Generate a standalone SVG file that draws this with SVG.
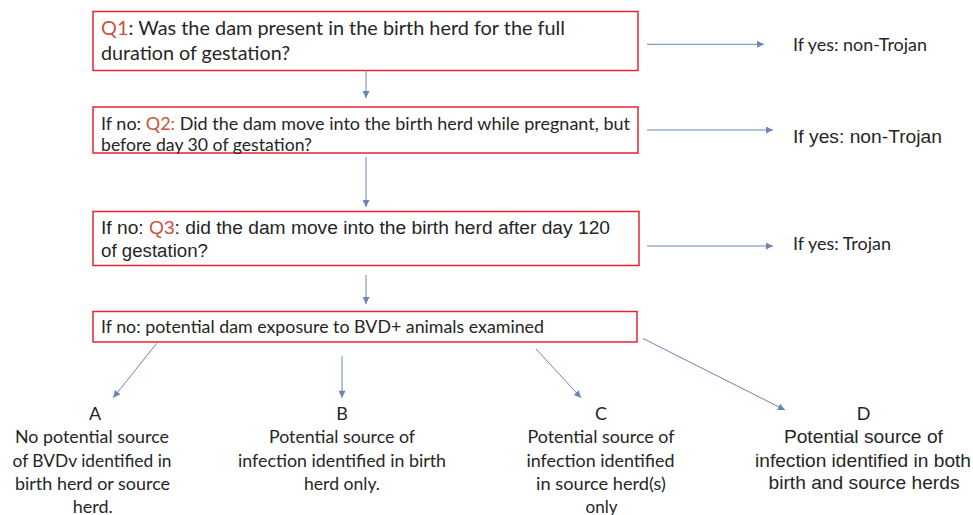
<svg xmlns="http://www.w3.org/2000/svg" width="973" height="515" viewBox="0 0 973 515">
<defs>
<marker id="ah" viewBox="0 0 10 10" refX="10" refY="5" markerWidth="8" markerHeight="7" markerUnits="userSpaceOnUse" orient="auto">
<path d="M0,0 L10,5 L0,10 z" fill="#6a85b6"/>
</marker>
<style>
.box{fill:#ffffff;stroke:#e62530;stroke-width:1.5}
.cal{font-family:Lato,"Open Sans","Liberation Sans",sans-serif;fill:#262626}
.ari{font-family:"Liberation Sans",Arial,sans-serif;fill:#262626}
.q{fill:#c8553d}
.conn line{stroke:#6a85b6;stroke-width:1;marker-end:url(#ah)}
.mid{text-anchor:middle}
</style>
</defs>
<rect width="973" height="515" fill="#ffffff"/>
<g id="q1">
<rect class="box" x="93" y="11.5" width="545" height="59"/>
<text class="cal" font-size="19" x="101" y="35" textLength="464" lengthAdjust="spacingAndGlyphs"><tspan class="q">Q1</tspan>: Was the dam present in the birth herd for the full</text>
<text class="cal" font-size="19" x="101" y="60" textLength="189" lengthAdjust="spacingAndGlyphs">duration of gestation?</text>
</g>
<g id="q2">
<rect class="box" x="93" y="107" width="545" height="46"/>
<text class="cal" font-size="17.5" x="101" y="129.5" textLength="529" lengthAdjust="spacingAndGlyphs">If no: <tspan class="q">Q2:</tspan> Did the dam move into the birth herd while pregnant, but</text>
<text class="cal" font-size="17.5" x="101" y="150.5" textLength="211" lengthAdjust="spacingAndGlyphs">before day 30 of gestation?</text>
</g>
<g id="q3">
<rect class="box" x="93" y="211.5" width="546" height="54"/>
<text class="ari" font-size="18" x="101" y="234" textLength="509" lengthAdjust="spacingAndGlyphs">If no: <tspan class="q">Q3</tspan>: did the dam move into the birth herd after day 120</text>
<text class="ari" font-size="18" x="101" y="256.5" textLength="107" lengthAdjust="spacingAndGlyphs">of gestation?</text>
</g>
<g id="q4">
<rect class="box" x="93" y="311.5" width="544" height="30.5"/>
<text class="cal" font-size="17.5" x="101" y="332.5" textLength="443" lengthAdjust="spacingAndGlyphs">If no: potential dam exposure to BVD+ animals examined</text>
</g>
<g id="yes1">
<text class="cal" font-size="17.5" x="793" y="50.5" textLength="134" lengthAdjust="spacingAndGlyphs">If yes: non-Trojan</text>
</g>
<g id="yes2">
<text class="ari" font-size="18.7" x="793" y="142.5" textLength="149" lengthAdjust="spacingAndGlyphs">If yes: non-Trojan</text>
</g>
<g id="yes3">
<text class="cal" font-size="17.5" x="793" y="250" textLength="98" lengthAdjust="spacingAndGlyphs">If yes: Trojan</text>
</g>
<g id="outA" class="cal mid" font-size="18">
<text x="95" y="420">A</text>
<text x="92" y="443.3" textLength="154" lengthAdjust="spacingAndGlyphs">No potential source</text>
<text x="92" y="466.7" textLength="159" lengthAdjust="spacingAndGlyphs">of BVDv identified in</text>
<text x="92.5" y="490" textLength="155" lengthAdjust="spacingAndGlyphs">birth herd or source</text>
<text x="92.7" y="512.7" textLength="40" lengthAdjust="spacingAndGlyphs">herd.</text>
</g>
<g id="outB" class="cal mid" font-size="18">
<text x="342" y="420">B</text>
<text x="342" y="443.3" textLength="146" lengthAdjust="spacingAndGlyphs">Potential source of</text>
<text x="342" y="466.7" textLength="208" lengthAdjust="spacingAndGlyphs">infection identified in birth</text>
<text x="342" y="490" textLength="76" lengthAdjust="spacingAndGlyphs">herd only.</text>
</g>
<g id="outC" class="cal mid" font-size="18">
<text x="601" y="420">C</text>
<text x="601" y="443.3" textLength="147" lengthAdjust="spacingAndGlyphs">Potential source of</text>
<text x="600.5" y="466.7" textLength="148" lengthAdjust="spacingAndGlyphs">infection identified</text>
<text x="601" y="490" textLength="130" lengthAdjust="spacingAndGlyphs">in source herd(s)</text>
<text x="601.5" y="512.7" textLength="32" lengthAdjust="spacingAndGlyphs">only</text>
</g>
<g id="outD" class="ari mid" font-size="19">
<text x="863.7" y="420">D</text>
<text x="863.4" y="443.3" textLength="159" lengthAdjust="spacingAndGlyphs">Potential source of</text>
<text x="863" y="466.7" textLength="216" lengthAdjust="spacingAndGlyphs">infection identified in both</text>
<text x="864" y="489" textLength="191" lengthAdjust="spacingAndGlyphs">birth and source herds</text>
</g>
<g id="connectors" class="conn">
<line x1="366" y1="70" x2="366" y2="98"/>
<line x1="366" y1="157" x2="366" y2="207"/>
<line x1="366" y1="275" x2="366" y2="304"/>
<line x1="647" y1="44.3" x2="764" y2="44.3"/>
<line x1="647" y1="130" x2="773" y2="130"/>
<line x1="647" y1="246" x2="773" y2="246"/>
<line x1="156.7" y1="343.3" x2="113.3" y2="397.7"/>
<line x1="342" y1="356" x2="342" y2="397.7"/>
<line x1="536" y1="349" x2="581" y2="397.7"/>
<line x1="642.7" y1="338.3" x2="785" y2="410"/>
</g>
</svg>
